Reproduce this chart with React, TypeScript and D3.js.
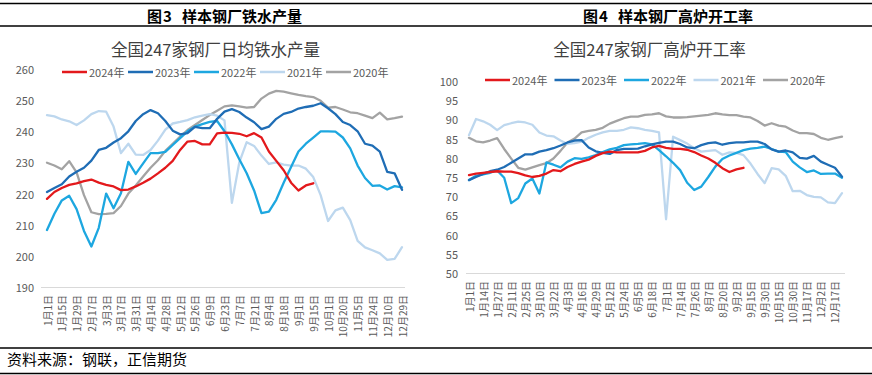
import React from "react";
import * as d3 from "d3";

// ---------------- DATA ----------------
const LEFT_CATS = [
  "1月1日","1月8日","1月15日","1月22日","1月29日","2月5日","2月17日","2月24日","3月3日","3月10日",
  "3月17日","3月24日","3月31日","4月7日","4月14日","4月21日","4月28日","5月5日","5月12日","5月19日",
  "5月26日","6月2日","6月9日","6月16日","6月23日","6月30日","7月7日","7月14日","7月21日","7月28日",
  "8月4日","8月11日","8月18日","8月25日","9月1日","9月8日","9月15日","9月22日","10月1日","10月13日",
  "10月20日","10月27日","11月5日","11月12日","11月24日","12月1日","12月10日","12月17日","12月29日"
];
const LEFT_2024 = [218.3,220.5,221.8,222.8,223.3,224,224.5,223.5,222.8,222.3,221.1,221.3,222.3,223.5,224.8,226.5,228.3,230.5,234,236.7,236.9,235.8,235.8,239.3,239.6,239.5,239.2,238.4,239.4,238,233.5,230.5,227.5,223.5,221,222.6,223.3];
const LEFT_2023 = [220.5,221.8,223,225.5,227,228.3,230.6,234,234.7,236.4,237.8,240,243.3,245.5,246.8,245.8,243.3,240.2,239,239.4,241.4,241,241,244,246.3,247.1,246.2,244.4,242.9,240.7,241.5,244,245.6,246.2,247.3,247.8,248.2,249,247.4,245.5,243,242,240,236,235.4,233.5,227,226.5,221.2];
const LEFT_2022 = [208.3,213.5,217.8,219.3,215,208,203,209,220,215.3,220.1,230.2,226.3,229.7,233,233,233.4,235.6,237.8,240,241.5,242.3,243,243.3,240,235.8,231,226.5,221,213.7,214.2,218,223.5,228.5,233.5,236,238,240,240,239.9,238,234.5,229,225,222.5,222.6,221.3,222.4,222];
const LEFT_2021 = [245.2,244.8,243.8,243.2,242,243.5,245.5,246.5,246.3,241.5,233,236,232.5,232.4,234,237,240.5,242.5,243,243.6,244.5,245,245.5,245,243.5,217,230,236.5,235.3,232.2,229.5,230,229.3,229,229,228,225.3,219.5,211.2,214.6,215.5,211.5,204.8,202.7,201.8,200.8,198.7,199,202.8];
const LEFT_2020 = [229.9,229,227.8,230.4,226.8,219.5,214,213.4,213.5,213.7,216,220,222.6,225.5,228.3,230.7,233.7,236,238.3,240.4,242,243.6,245.2,246.6,248,248.3,248,247.6,247.8,250.5,252.1,253,252.7,252.2,251.7,251.3,251,249.8,247.6,247.8,247,246.1,245.8,245,244.2,246,243.8,244.2,244.7];
const LEFT_YTICKS = [190,200,210,220,230,240,250,260];

const RIGHT_CATS = [
  "1月1日","1月7日","1月14日","1月20日","1月27日","2月4日","2月11日","2月18日","2月25日","3月3日",
  "3月10日","3月16日","3月22日","3月28日","4月3日","4月9日","4月16日","4月22日","4月29日","5月6日",
  "5月12日","5月18日","5月24日","5月30日","6月5日","6月11日","6月18日","6月24日","7月1日","7月7日",
  "7月14日","7月20日","7月26日","8月1日","8月7日","8月13日","8月20日","8月26日","9月2日","9月8日",
  "9月15日","9月22日","9月30日","10月8日","10月15日","10月22日","10月30日","11月8日","11月17日","11月25日",
  "12月2日","12月9日","12月17日","12月24日"
];
const RIGHT_2024 = [75.5,75.9,76.1,76.3,76.5,76.4,76.4,76,75.4,75,75.3,75.9,76.8,76.5,77.6,78.4,79,79.5,80.5,81.2,81.6,81.4,81.4,81.4,81.4,81.8,82.7,83.1,82.6,82.3,82.3,82.1,81.5,80.6,79.8,78.7,77.3,76.3,77,77.4];
const RIGHT_2023 = [74.2,75,75.8,76.5,76.9,77.6,78.7,79.8,80.9,80.9,81.6,82,82.5,83.2,84,84.5,84.6,82.7,81.7,81.3,81,82,82.3,82.3,82.4,83,83.5,83.9,84.2,84.2,83.6,82.7,82.5,83.3,83.8,84,83.4,83.8,84,84,84.2,84.2,83.6,82.2,81.6,81.9,81.4,80,79.8,80.5,79,78.2,77.4,75.1];
const RIGHT_2022 = [74.2,75.3,75.7,76.1,76.7,74.8,68.2,69.5,73.3,74.6,70.7,78.8,78.2,77.5,79,79.9,79.7,80.1,80.7,81.5,82.2,82.6,83.3,83.5,83.6,83.8,83.5,82,80.4,78.7,76.8,73.5,71.6,72.5,75,77.7,79.7,80.6,81.3,82,82.4,82.6,82.9,82.3,81.6,81.5,79,77.5,76.3,76.7,75.8,75.9,75.9,74.8];
const RIGHT_2021 = [85.9,90.1,89.5,88.6,87.2,88.5,89,89.4,89.2,88.6,86.6,85.8,85.6,84.5,83.6,83.8,84.2,85.2,86,86.6,87,87,87.3,87.9,87.7,87.3,87,86.6,64,85.5,84.6,83.7,82.5,81.6,81.8,82,80.8,81.4,81.3,80.7,78.5,75.8,73.4,77.3,77,75.3,71.3,71.4,70.3,69.8,69.7,68.4,68.2,70.8];
const RIGHT_2020 = [85.2,84.3,84,84.5,85.1,82.3,79.8,77.4,76.9,77.5,78.1,78.6,79.8,81.8,84,85,86.6,87,87.3,87.8,88.9,89.6,90.3,90.7,90.7,91.2,91.3,91.6,90.8,90.5,90.5,90.6,90.8,91,91.2,91.6,91.3,91.1,91.1,90.7,90.5,89.6,88.4,89,88.4,88.1,87.1,86.4,86.4,86.2,85.2,84.7,85.1,85.5];
const RIGHT_YTICKS = [50,55,60,65,70,75,80,85,90,95,100];

const SERIES_NAMES = ["2024年","2023年","2022年","2021年","2020年"];

// ---------------- STYLE ----------------
const COLORS = ["#E3191C", "#1F6DB5", "#1DA7E0", "#BDD7EE", "#A3A3A3"];
const FONT = "'Noto Sans CJK SC', 'Noto Sans', sans-serif";
const AXIS_TEXT = "#595959";

type ChartProps = {
  cats: string[];
  series: number[][];
  yDomain: [number, number];
  yTicks: number[];
  xRange: [number, number];
  yRange: [number, number]; // [bottom px, top px]
  axisX: [number, number];
  yLabelX: number;
  xLabelTop: number;
  title: string;
  titleX: number;
  titleY: number;
  legendX: number;
  legendY: number;
  legendStep: number;
};

function LineChart(p: ChartProps) {
  const x = d3.scalePoint<number>().domain(p.cats.map((_, i) => i)).range(p.xRange);
  const y = d3.scaleLinear().domain(p.yDomain).range(p.yRange);
  const line = d3
    .line<number>()
    .x((_, i) => x(i) as number)
    .y((d) => y(d));
  const order = [4, 3, 2, 1, 0];
  const axisY = p.yRange[0] + 0.5;
  return (
    <g>
      <text x={p.titleX} y={p.titleY} textAnchor="middle" dominantBaseline="central"
        fontFamily={FONT} fontSize={16.5} fill="#404040">{p.title}</text>
      {/* legend */}
      {SERIES_NAMES.map((n, k) => {
        const lx = p.legendX + k * p.legendStep;
        return (
          <g key={n}>
            <line x1={lx} x2={lx + 25} y1={p.legendY} y2={p.legendY} stroke={COLORS[k]} strokeWidth={2.5} />
            <text x={lx + 27} y={p.legendY} dominantBaseline="central" fontFamily={FONT} fontSize={11} fill={AXIS_TEXT}>{n}</text>
          </g>
        );
      })}
      {/* y labels */}
      {p.yTicks.map((t) => (
        <text key={t} x={p.yLabelX} y={y(t)} textAnchor="end" dominantBaseline="central"
          fontFamily={FONT} fontSize={11} fill={AXIS_TEXT}>{t}</text>
      ))}
      {/* x axis */}
      <line x1={p.axisX[0]} x2={p.axisX[1]} y1={axisY} y2={axisY} stroke="#D9D9D9" strokeWidth={1} />
      {p.cats.map((c, i) =>
        i % 2 === 0 ? (
          <text key={c + i} transform={`translate(${x(i)},${p.xLabelTop}) rotate(-90)`} textAnchor="end"
            dominantBaseline="central" fontFamily={FONT} fontSize={10} fill={AXIS_TEXT}>{c}</text>
        ) : null
      )}
      {/* series */}
      {order.map((k) => (
        <path key={k} d={line(p.series[k]) || ""} fill="none" stroke={COLORS[k]} strokeWidth={2.3}
          strokeLinejoin="round" strokeLinecap="round" />
      ))}
    </g>
  );
}

export default function App() {
  return (
    <svg width={872} height={375} style={{ position: "absolute", left: 0, top: 0, background: "#fff" }}>
      <rect x={0} y={0} width={872} height={375} fill="#fff" />
      {/* frame lines */}
      <line x1={0} x2={872} y1={3.5} y2={3.5} stroke="#000" strokeWidth={1.5} />
      <line x1={0} x2={872} y1={26} y2={26} stroke="#000" strokeWidth={1.5} />
      <line x1={0} x2={872} y1={348} y2={348} stroke="#000" strokeWidth={1.5} />
      <line x1={0} x2={872} y1={373.5} y2={373.5} stroke="#000" strokeWidth={1.5} />
      {/* headers */}
      <text y={15} dominantBaseline="central" fontFamily={FONT} fontSize={15} fontWeight={700} fill="#000">
        <tspan x={147}>图</tspan><tspan x={163}>3</tspan><tspan x={182}>样本钢厂铁水产量</tspan>
      </text>
      <text y={15} dominantBaseline="central" fontFamily={FONT} fontSize={15} fontWeight={700} fill="#000">
        <tspan x={583}>图</tspan><tspan x={599}>4</tspan><tspan x={618}>样本钢厂高炉开工率</tspan>
      </text>
      <LineChart
        cats={LEFT_CATS}
        series={[LEFT_2024, LEFT_2023, LEFT_2022, LEFT_2021, LEFT_2020]}
        yDomain={[190, 260]}
        yTicks={LEFT_YTICKS}
        xRange={[47, 402]}
        yRange={[287, 69]}
        axisX={[41, 405]}
        yLabelX={34}
        xLabelTop={295}
        title="全国247家钢厂日均铁水产量"
        titleX={215.5}
        titleY={49}
        legendX={62}
        legendY={72}
        legendStep={66}
      />
      <LineChart
        cats={RIGHT_CATS}
        series={[RIGHT_2024, RIGHT_2023, RIGHT_2022, RIGHT_2021, RIGHT_2020]}
        yDomain={[50, 100]}
        yTicks={RIGHT_YTICKS}
        xRange={[469, 842]}
        yRange={[273, 81]}
        axisX={[466, 845]}
        yLabelX={458}
        xLabelTop={281}
        title="全国247家钢厂高炉开工率"
        titleX={649.5}
        titleY={49}
        legendX={485}
        legendY={80}
        legendStep={69.5}
      />
      <text x={7} y={358} dominantBaseline="central" fontFamily={FONT} fontSize={15} fill="#000">资料来源：钢联，正信期货</text>
    </svg>
  );
}
